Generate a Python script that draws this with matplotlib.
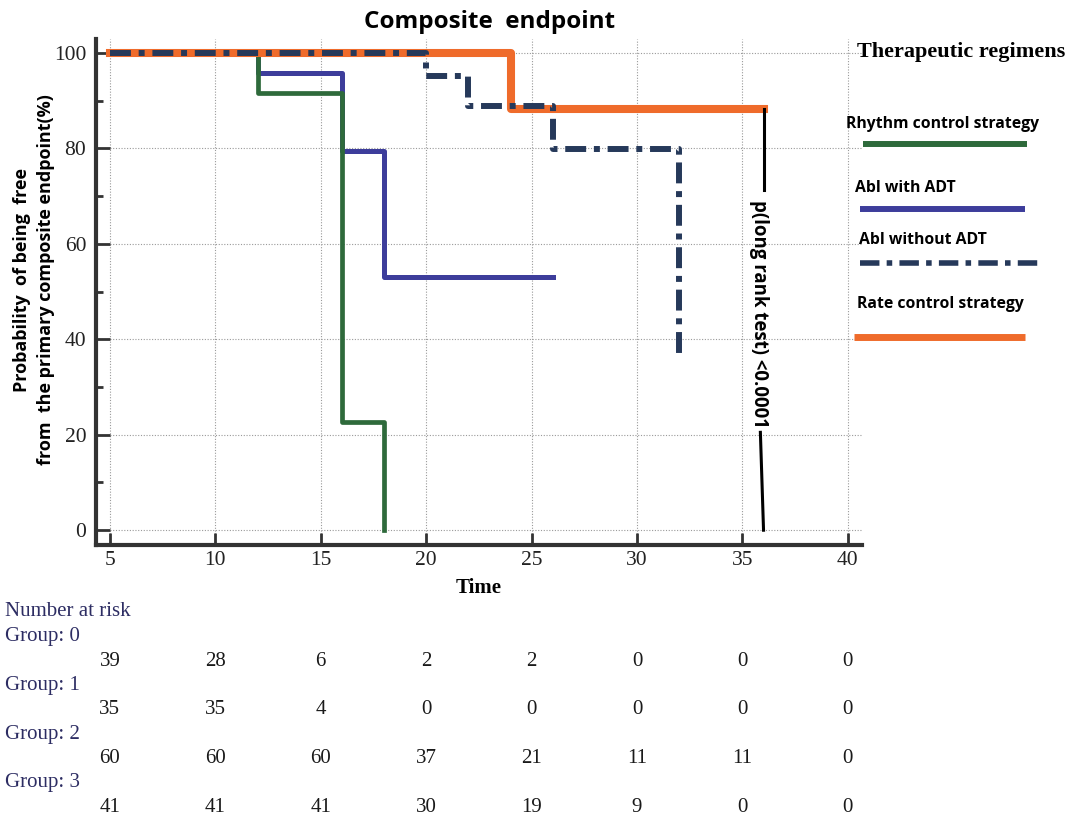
import matplotlib
matplotlib.use("Agg")
import matplotlib.pyplot as plt
from matplotlib.transforms import Bbox, TransformedBbox, blended_transform_factory
from matplotlib.lines import Line2D

# curve data (time, probability free of endpoint %)
rhythm_t = [5, 12, 16, 18]
rhythm_s = [100, 91.5, 22.7, 0]
abl_adt_t = [5, 12, 16, 18, 26]
abl_adt_s = [100, 95.7, 79.4, 53.1, 53.1]
abl_noadt_t = [5, 20, 22, 26, 32]
abl_noadt_s = [100, 95.2, 88.9, 79.8, 35.6]
rate_t = [5, 24, 36]
rate_s = [100, 88.3, 88.3]

# p-value bracket line (upper and lower part)
pline_top_x = [36, 36]
pline_top_y = [88.3, 71.2]
pline_bot_x = [35.85, 36.0]
pline_bot_y = [20.5, 0]

# number at risk
risk_times = [5, 10, 15, 20, 25, 30, 35, 40]
risk_group0 = [39, 28, 6, 2, 2, 0, 0, 0]
risk_group1 = [35, 35, 4, 0, 0, 0, 0, 0]
risk_group2 = [60, 60, 60, 37, 21, 11, 11, 0]
risk_group3 = [41, 41, 41, 30, 19, 9, 0, 0]

GREEN = '#2e6a3b'
BLUE = '#3d3d9b'
NAVY = '#26395a'
ORANGE = '#ef6b2b'
SPINE = '#333333'
LABEL_NAVY = '#2d2d63'

SANS = ['Open Sans', 'DejaVu Sans']
SERIF = ['Liberation Serif', 'DejaVu Serif']

W, H = 1075, 818
fig = plt.figure(figsize=(W / 100, H / 100), dpi=100)
ax = fig.add_axes([96 / W, 1 - 545 / H, (862 - 96) / W, (545 - 39) / H])
ax.set_xlim(4.34, 40.67)
ax.set_ylim(-3.1, 102.9)

dash_dot = (3.5, 1.3, 1.0, 1.3)

ax.step(abl_adt_t, abl_adt_s, where='post', color=BLUE, lw=3.6, zorder=2)
ax.step(rhythm_t, rhythm_s, where='post', color=GREEN, lw=3.4, zorder=3)
ax.step(rate_t, rate_s, where='post', color=ORANGE, lw=5.8, zorder=4)
nav, = ax.step(abl_noadt_t, abl_noadt_s, where='post', color=NAVY, lw=4.3, zorder=5)
nav.set_dashes(dash_dot)
nav.set_dash_capstyle('butt')

ax.plot(pline_top_x, pline_top_y, color='black', lw=2.2, zorder=6)
ax.plot(pline_bot_x, pline_bot_y, color='black', lw=2.2, zorder=6)
ax.text(35.8, 45.4, 'p(long rank test) <0.0001', rotation=270, ha='center', va='center',
        fontsize=13.4, fontweight='bold', family=SANS, zorder=7)

# axes styling
for side in ['top', 'right']:
    ax.spines[side].set_visible(False)
for side in ['left', 'bottom']:
    ax.spines[side].set_linewidth(3)
    ax.spines[side].set_color(SPINE)

ax.set_xticks(range(5, 41, 5))
ax.set_yticks(range(0, 101, 20))
ax.set_yticks(range(10, 100, 20), minor=True)
ax.tick_params(axis='x', direction='in', length=8.5, width=2, color=SPINE, pad=4,
               labelsize=15.5)
ax.tick_params(axis='y', which='major', direction='in', length=10, width=2, color=SPINE,
               pad=7, labelsize=15.5)
ax.tick_params(axis='y', which='minor', direction='in', length=5, width=2, color=SPINE)
for lab in ax.get_xticklabels() + ax.get_yticklabels():
    lab.set_family(SERIF)
    lab.set_color('#222222')

ax.grid(True, which='major', color='#9a9a9a', lw=0.8, linestyle=(0, (1, 1.5)), zorder=0)
ax.set_axisbelow(True)

ax.set_xlabel('Time', fontsize=15, fontweight='bold', family=SERIF, labelpad=6)

fig.text(490 / W, 1 - 22 / H, 'Composite  endpoint', ha='center', va='center',
         fontsize=17.5, fontweight='bold', family=SANS)

fig.text(34 / W, 1 - 280 / H, 'Probability  of being  free\nfrom  the primary composite endpoint(%)',
         rotation=90, ha='center', va='center', multialignment='center',
         fontsize=13, fontweight='bold', family=SANS, linespacing=1.4)

# legend block on the right
fig.text(857 / W, 1 - 52 / H, 'Therapeutic regimens', ha='left', va='center',
         fontsize=16, fontweight='bold', family=SERIF)

legend_items = [
    ('Rhythm control strategy', 846, 124, 863, 1027, 144, GREEN, 4.3, None),
    ('Abl with ADT', 855, 188, 860, 1025, 209, BLUE, 4.3, None),
    ('Abl without ADT', 859, 240, 860, 1043, 263, NAVY, 4.0, dash_dot),
    ('Rate control strategy', 857, 304, 854, 1025, 337, ORANGE, 5.0, None),
]
for label, tx, ty, x0, x1, ly, col, lw, dashes in legend_items:
    t = fig.text(tx / W, 1 - ty / H, label, ha='left', va='center',
                 fontsize=11.3, fontweight='bold', family=SANS)
    if label == 'Abl with ADT':
        clip = TransformedBbox(Bbox([[0.78, 1 - 192 / H], [1.0, 1.0]]), fig.transFigure)
        t.set_clip_box(clip)
        t.set_clip_on(True)
    ln = Line2D([x0 / W, x1 / W], [1 - ly / H, 1 - ly / H], transform=fig.transFigure,
                color=col, lw=lw, solid_capstyle='butt')
    if dashes is not None:
        ln.set_dashes(dashes)
        ln.set_dash_capstyle('butt')
    fig.add_artist(ln)

# number at risk table
fig.text(5 / W, 1 - 612 / H, 'Number at risk', ha='left', va='center',
         fontsize=15, family=SERIF, color=LABEL_NAVY)
trans = blended_transform_factory(ax.transData, fig.transFigure)
groups = [risk_group0, risk_group1, risk_group2, risk_group3]
for k, counts in enumerate(groups):
    gy = 637 + 48.5 * k
    fig.text(5 / W, 1 - gy / H, f'Group: {k}', ha='left', va='center',
             fontsize=15, family=SERIF, color=LABEL_NAVY)
    for t_val, n in zip(risk_times, counts):
        ax.text(t_val, 1 - (gy + 24.5) / H, str(n), transform=trans, ha='center',
                va='center', fontsize=15, family=SERIF, color='#1a1a1a', clip_on=False)

fig.savefig('out.png', dpi=100)
